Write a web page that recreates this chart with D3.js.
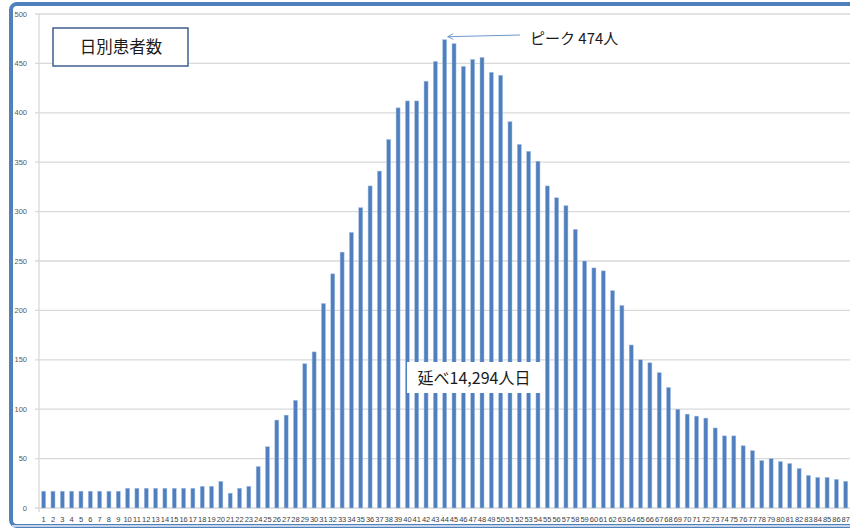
<!DOCTYPE html>
<html><head><meta charset="utf-8">
<script src="https://cdn.jsdelivr.net/npm/d3@7"></script>
<style>html,body{margin:0;padding:0;background:#fff;overflow:hidden}</style>
</head><body>
<svg id="c" width="850" height="528"></svg>
<script>
const days = d3.range(1, 88);
const patients = [17,17,17,17,17,17,17,17,17,20,20,20,20,20,20,20,20,22,22,27,15,20,22,42,62,89,94,109,146,158,207,237,259,279,304,326,341,373,405,412,412,432,452,474,470,447,454,456,441,438,391,368,361,351,326,314,306,282,250,243,240,220,205,165,150,147,137,122,100,95,93,91,81,73,73,63,58,48,50,47,45,40,33,31,31,29,27];
const yTicks = [0,50,100,150,200,250,300,350,400,450,500];
const titleText = "日別患者数";
const peakText = "ピーク 474人";
const totalText = "延べ14,294人日";

const svg = d3.select("#c");
const x = d3.scaleBand().domain(days).range([39, 850.4]).paddingInner(0.57).paddingOuter(0.285);
const y = d3.scaleLinear().domain([0, 500]).range([508, 14]);

// frame
svg.append("rect").attr("x", 11).attr("y", 4).attr("width", 860).attr("height", 522)
  .attr("rx", 6).attr("fill", "none").attr("stroke", "#4f81bd").attr("stroke-width", 4);
svg.append("line").attr("x1", 12).attr("x2", 850).attr("y1", 526).attr("y2", 526)
  .attr("stroke", "#c5d3e8").attr("stroke-width", 2);

// gridlines
svg.append("g").selectAll("line").data(yTicks).join("line")
  .attr("x1", 35).attr("x2", 850).attr("y1", d => y(d)).attr("y2", d => y(d))
  .attr("stroke", "#d9d9d9").attr("stroke-width", 1.3);
svg.append("line").attr("x1", 39).attr("x2", 39).attr("y1", y(500)).attr("y2", 512)
  .attr("stroke", "#d9d9d9").attr("stroke-width", 1.3);

// y labels
svg.append("g").selectAll("text").data(yTicks).join("text")
  .attr("x", 27).attr("y", d => y(d) + 2.5).attr("text-anchor", "end")
  .attr("font-family", "Liberation Sans, Arial, sans-serif").attr("font-size", 7.5)
  .attr("fill", "#595959").text(d => d);

// bars
svg.append("g").selectAll("rect").data(patients).join("rect")
  .attr("x", (d, i) => x(days[i])).attr("width", x.bandwidth())
  .attr("y", d => y(d)).attr("height", d => y(0) - y(d))
  .attr("fill", "#4f7fbe").attr("stroke", "#a9c1e3").attr("stroke-width", 0.5);

// x labels
svg.append("g").selectAll("text").data(days).join("text")
  .attr("x", d => x(d) + x.bandwidth() / 2).attr("y", 522).attr("text-anchor", "middle")
  .attr("font-family", "Liberation Sans, Arial, sans-serif").attr("font-size", 7.5)
  .attr("fill", "#404040").text(d => d);

// title box
svg.append("rect").attr("x", 53).attr("y", 28).attr("width", 135).attr("height", 38)
  .attr("fill", "#fff").attr("stroke", "#3f5f8f").attr("stroke-width", 1.5);
svg.append("text").attr("x", 121).attr("y", 53).attr("text-anchor", "middle")
  .attr("font-family", "Noto Sans CJK JP, sans-serif").attr("font-size", 16.5)
  .attr("fill", "#1a1a1a").text(titleText);

// total box
svg.append("rect").attr("x", 407).attr("y", 362).attr("width", 135).attr("height", 31)
  .attr("fill", "#fff");
svg.append("text").attr("x", 474).attr("y", 384).attr("text-anchor", "middle")
  .attr("font-family", "Noto Sans CJK JP, sans-serif").attr("font-size", 16)
  .attr("fill", "#1a1a1a").text(totalText);

// peak annotation
const peakIdx = patients.indexOf(d3.max(patients));
const px = x(days[peakIdx]) + x.bandwidth() / 2 + 3;
const py = y(patients[peakIdx]) - 3;
svg.append("defs").append("marker").attr("id", "ah").attr("viewBox", "0 0 10 10")
  .attr("refX", 9).attr("refY", 5).attr("markerWidth", 7).attr("markerHeight", 7)
  .attr("markerUnits", "userSpaceOnUse").attr("orient", "auto")
  .append("path").attr("d", "M1,1 L9,5 L1,9").attr("fill", "none").attr("stroke", "#6f97cc").attr("stroke-width", 1.3);
svg.append("line").attr("x1", 520).attr("y1", 35).attr("x2", px).attr("y2", py)
  .attr("stroke", "#6f97cc").attr("stroke-width", 1).attr("marker-end", "url(#ah)");
svg.append("text").attr("x", 530).attr("y", 44)
  .attr("font-family", "Noto Sans CJK JP, sans-serif").attr("font-size", 15)
  .attr("fill", "#1a1a1a").text(peakText);
</script>
</body></html>
